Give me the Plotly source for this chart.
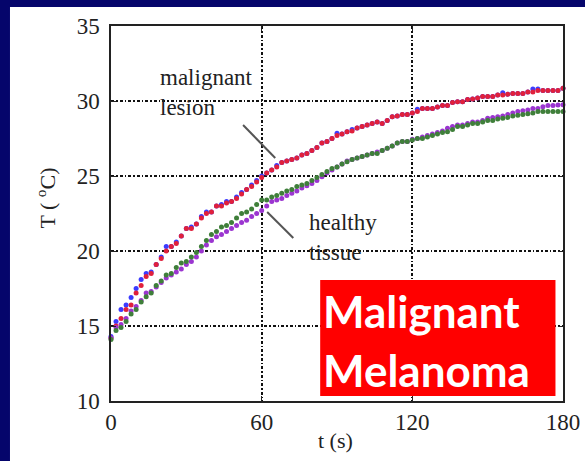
import plotly.graph_objects as go

time_s = list(range(0, 182, 2))

malignant_red = [
    14.2, 15.0, 15.5, 16.1, 16.4, 17.2, 17.7, 18.3, 18.5, 19.1,
    19.5, 20.0, 20.3, 20.5, 21.0, 21.5, 21.5, 21.8, 22.2, 22.5,
    22.6, 23.0, 23.0, 23.2, 23.3, 23.5, 23.8, 24.1, 24.3, 24.6,
    24.9, 25.2, 25.4, 25.6, 25.9, 26.0, 26.1, 26.2, 26.4, 26.5,
    26.7, 26.9, 27.2, 27.3, 27.5, 27.7, 27.8, 27.95, 28.0, 28.2,
    28.3, 28.4, 28.5, 28.6, 28.5, 28.7, 28.95, 29.0, 29.1, 29.1,
    29.2, 29.3, 29.5, 29.5, 29.5, 29.6, 29.7, 29.7, 29.9, 29.95,
    29.95, 30.1, 30.13, 30.2, 30.3, 30.3, 30.3, 30.4, 30.4, 30.45,
    30.5, 30.5, 30.5, 30.6, 30.6, 30.7, 30.7, 30.7, 30.7, 30.7,
    30.85,
]
malignant_blue = [
    14.3, 15.3, 16.1, 16.4, 16.9, 17.5, 18.1, 18.5, 18.6, 19.1,
    19.6, 20.3, 20.3, 20.6, 21.0, 21.5, 21.6, 21.8, 22.3, 22.6,
    22.6, 23.0, 23.1, 23.3, 23.3, 23.6, 23.9, 24.1, 24.4, 24.7,
    25.0, 25.2, 25.4, 25.7, 25.9, 26.0, 26.1, 26.2, 26.4, 26.5,
    26.7, 26.9, 27.2, 27.3, 27.5, 27.85, 27.8, 27.95, 28.1, 28.2,
    28.3, 28.4, 28.5, 28.6, 28.5, 28.7, 28.95, 29.0, 29.1, 29.1,
    29.2, 29.45, 29.5, 29.5, 29.5, 29.6, 29.7, 29.7, 29.9, 29.95,
    29.95, 30.1, 30.13, 30.2, 30.3, 30.3, 30.3, 30.4, 30.55, 30.45,
    30.5, 30.5, 30.5, 30.6, 30.8, 30.8, 30.7, 30.7, 30.7, 30.7,
    30.85,
]
healthy_green = [
    14.1, 14.7, 14.9, 15.3, 15.8, 16.1, 16.6, 16.95, 17.2, 17.7,
    18.0, 18.4, 18.5, 18.9, 19.2, 19.3, 19.6, 19.9, 20.3, 20.7,
    21.1, 21.3, 21.6, 21.7, 21.9, 22.2, 22.5, 22.6, 22.8, 23.1,
    23.4, 23.4, 23.6, 23.7, 23.85, 24.0, 24.1, 24.3, 24.4, 24.5,
    24.7, 24.9, 25.1, 25.3, 25.5, 25.6, 25.8, 25.95, 26.1, 26.2,
    26.3, 26.4, 26.5, 26.5, 26.7, 26.85, 27.0, 27.2, 27.3, 27.3,
    27.4, 27.5, 27.5, 27.6, 27.7, 27.8, 27.9, 27.95, 28.1, 28.3,
    28.3, 28.4, 28.5, 28.5, 28.6, 28.7, 28.7, 28.8, 28.85, 28.9,
    29.0, 29.05, 29.1, 29.15, 29.2, 29.3, 29.3, 29.3, 29.3, 29.3,
    29.3,
]
healthy_purple = [
    14.2, 14.9, 15.1, 15.5, 16.0, 16.3, 16.7, 17.2, 17.3, 17.6,
    17.9, 18.2, 18.4, 18.6, 18.8, 19.1, 19.3, 19.6, 20.0, 20.4,
    20.7, 20.95, 21.1, 21.3, 21.5, 21.7, 21.9, 22.05, 22.3, 22.5,
    22.7, 23.0, 23.3, 23.4, 23.5, 23.7, 23.85, 24.0, 24.2, 24.35,
    24.5, 24.7, 24.95, 25.2, 25.4, 25.6, 25.8, 26.0, 26.1, 26.2,
    26.3, 26.4, 26.5, 26.6, 26.7, 26.85, 27.0, 27.2, 27.3, 27.3,
    27.45, 27.5, 27.6, 27.7, 27.8, 27.9, 28.0, 28.18, 28.3, 28.4,
    28.4, 28.5, 28.6, 28.6, 28.7, 28.85, 28.9, 28.95, 29.0, 29.1,
    29.2, 29.3, 29.35, 29.4, 29.5, 29.5, 29.62, 29.7, 29.7, 29.73,
    29.75,
]

x_ticks = [0, 60, 120, 180]
y_ticks = [10, 15, 20, 25, 30, 35]

NAVY = "#05056B"
SERIF = "Liberation Serif, Times New Roman, serif"
INK = "#222222"

fig = go.Figure()
for vals, col in [(malignant_blue, "#3b3bff"), (malignant_red, "#e0203c"),
                  (healthy_purple, "#9b35d0"), (healthy_green, "#3f7f3a")]:
    fig.add_trace(go.Scatter(x=time_s, y=vals, mode="markers",
                             marker=dict(size=5, color=col, line=dict(width=0)),
                             showlegend=False, hoverinfo="skip", cliponaxis=False))

# white panel behind chart
fig.add_shape(type="rect", xref="paper", yref="paper",
              x0=-0.2235, x1=1.06, y0=-0.17, y1=1.0507,
              fillcolor="white", line=dict(width=0), layer="below")

# pointer lines
fig.add_shape(type="line", x0=52.6, y0=28.4, x1=65.4, y1=26.2,
              line=dict(color="#555555", width=2))
fig.add_shape(type="line", x0=62.2, y0=22.6, x1=72.6, y1=20.87,
              line=dict(color="#555555", width=2))

# red label box
fig.add_shape(type="rect", x0=83.3, x1=177.0, y0=10.33, y1=18.07,
              fillcolor="#ff0000", line=dict(width=0), layer="above")

fig.add_annotation(x=18.7, y=30.6, text="malignant<br>lesion", showarrow=False,
                   xanchor="left", yanchor="middle", align="left",
                   font=dict(family=SERIF, size=23, color=INK))
fig.add_annotation(x=78.2, y=20.9, text="healthy<br>tissue", showarrow=False,
                   xanchor="left", yanchor="middle", align="left",
                   font=dict(family=SERIF, size=23, color=INK))
fig.add_annotation(x=83.6, y=16.0, text="<b>Malignant</b>", showarrow=False,
                   xanchor="left", yanchor="middle",
                   font=dict(family="Lato", size=44, color="white"))
fig.add_annotation(x=83.6, y=12.1, text="<b>Melanoma</b>", showarrow=False,
                   xanchor="left", yanchor="middle",
                   font=dict(family="Lato", size=44, color="white"))

# axis titles
fig.add_annotation(xref="paper", yref="paper", x=0.4956, y=-0.104,
                   text="t (s)", showarrow=False, xanchor="center", yanchor="middle",
                   font=dict(family=SERIF, size=22, color=INK))
fig.add_annotation(xref="paper", yref="paper", x=-0.146, y=0.54,
                   text="T ( <sup>o</sup>C)", showarrow=False, textangle=-90,
                   xanchor="center", yanchor="middle",
                   font=dict(family=SERIF, size=22, color=INK))

axis_common = dict(showline=True, linecolor=INK, linewidth=1.5, mirror="ticks",
                   ticks="inside", ticklen=5, tickcolor=INK, tickwidth=1.2,
                   showgrid=True, gridcolor="#111111", gridwidth=1.6,
                   griddash="3px,2px,1.5px,2px", zeroline=False, automargin=False,
                   tickfont=dict(family=SERIF, size=23, color=INK))

fig.update_xaxes(range=[0, 180], tickvals=x_ticks, ticktext=[str(v) for v in x_ticks],
                 ticklabelstandoff=0, **axis_common)
fig.update_yaxes(range=[10, 35], tickvals=y_ticks, ticktext=[str(v) for v in y_ticks],
                 ticklabelstandoff=5, **axis_common)

fig.update_layout(width=585, height=461, autosize=False,
                  margin=dict(l=111, r=22, t=26, b=60, autoexpand=False),
                  paper_bgcolor=NAVY, plot_bgcolor="rgba(0,0,0,0)")

fig.write_html("out.html")
